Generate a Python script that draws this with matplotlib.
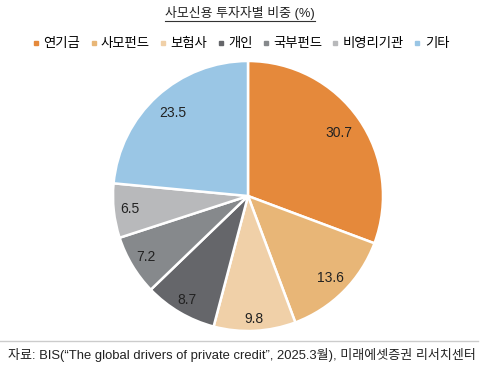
import matplotlib
matplotlib.use("Agg")
import matplotlib.pyplot as plt
import numpy as np
from matplotlib.lines import Line2D

plt.rcParams['font.family'] = ['Liberation Sans', 'Noto Sans CJK KR', 'DejaVu Sans']

# data
labels = ["연기금", "사모펀드", "보험사", "개인", "국부펀드", "비영리기관", "기타"]
shares = [30.7, 13.6, 9.8, 8.7, 7.2, 6.5, 23.5]
colors = ["#E5893B", "#E8B677", "#F0D0A8", "#65666A", "#86898C", "#B8B9BB", "#9AC6E5"]
label_dist = [0.82, 0.86, 0.91, 0.89, 0.88, 0.88, 0.83]

title = "사모신용 투자자별 비중 (%)"
source = "자료: BIS(“The global drivers of private credit”, 2025.3월), 미래에셋증권 리서치센터"

W, H = 500, 376
fig = plt.figure(figsize=(W / 100, H / 100), dpi=100)

# pie axes: center (248,196) px, radius 135 px
cx, cy, r = 248, 196, 135
ax = fig.add_axes([(cx - r) / W, (H - cy - r) / H, 2 * r / W, 2 * r / H])
wedges, _ = ax.pie(shares, colors=colors, startangle=90, counterclock=False,
                   radius=1.0, wedgeprops=dict(edgecolor="white", linewidth=1.8))
ax.set_xlim(-1, 1)
ax.set_ylim(-1, 1)
ax.set_aspect("equal")

for w, v, d in zip(wedges, shares, label_dist):
    ang = np.deg2rad((w.theta1 + w.theta2) / 2)
    ax.text(d * np.cos(ang), d * np.sin(ang), f"{v:.1f}",
            ha="center", va="center", fontsize=10, color="#222222")

# title with underline
t = fig.text(240 / W, 1 - 13 / H, title, ha="center", va="center",
             fontsize=9.3, color="#222222")
fig.canvas.draw()
bb = t.get_window_extent()
fig.add_artist(Line2D([bb.x0 / W, bb.x1 / W], [(bb.y0 - 0.5) / H] * 2,
                      color="#333333", lw=0.8))

# legend
handles = [Line2D([], [], marker="s", ls="", color=c, markersize=3.5) for c in colors]
fig.legend(handles, labels, loc="center", bbox_to_anchor=(241 / W, 1 - 44 / H),
           ncol=7, frameon=False, fontsize=9.6, handlelength=0.5,
           handletextpad=0.3, columnspacing=0.75, borderpad=0)

# source line and note
fig.add_artist(Line2D([0, 478 / W], [1 - 341 / H] * 2, color="#CCCCCC", lw=1))
fig.text(8 / W, 1 - 355 / H, source, ha="left", va="center",
         fontsize=9.4, color="#222222")

fig.savefig("out.png", dpi=100)
